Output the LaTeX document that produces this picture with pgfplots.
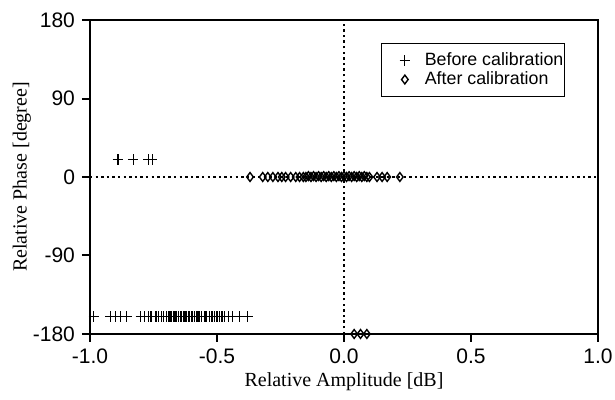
\documentclass[border=0pt]{standalone}
\usepackage{pgfplots}
\pgfplotsset{compat=1.18}
\usepackage{fontspec}
\setmainfont{Liberation Serif}
\newfontfamily\hel{Liberation Sans}
\begin{document}
\begin{tikzpicture}
\begin{axis}[
  name=ax,
  scale only axis, width=254pt, height=157pt,
  xmin=-1, xmax=1, ymin=-180, ymax=180,
  xtick={-1,-0.5,0,0.5,1}, ytick={-180,-90,0,90,180},
  xticklabel style={/pgf/number format/.cd, fixed, fixed zerofill, precision=1},
  /pgf/number format/assume math mode=true,
  ticklabel style={font=\hel\fontsize{10.5}{12}\selectfont},
  tick align=outside, xtick pos=bottom, ytick pos=left,
  major tick length=4pt,
  axis line style={line width=1pt}, tick style={line width=1pt, black},
  xlabel={Relative Amplitude [dB]}, ylabel={Relative Phase [degree]},
  label style={font=\fontsize{9.2}{10}\selectfont},
  every axis x label/.style={at={(axis description cs:0.5,-0.153)}, anchor=center},
  every axis y label/.style={at={(axis description cs:-0.134,0.5)}, rotate=90, anchor=center},
  clip=false,
  legend style={at={(0.935,0.9265)}, anchor=north east, draw=black, line width=0.6pt,
    font=\hel\fontsize{8.9}{9.5}\selectfont, inner xsep=0.5pt, inner ysep=3.5pt, row sep=-0.5pt,
    nodes={inner xsep=0pt, inner ysep=1pt}},
  legend cell align=left,
  legend image code/.code={\path[draw=none, fill=none] (0pt,-1pt) rectangle (21pt,1pt); \draw[#1] plot coordinates {(11pt,0pt)};},
]
\draw[line width=1pt, dash pattern=on 1.2pt off 1.6pt] (axis cs:-1,0) -- (axis cs:1,0);
\draw[line width=1pt, dash pattern=on 1.2pt off 1.6pt] (axis cs:0,-180) -- (axis cs:0,180);
\addplot[only marks, mark=+, mark size=2.6pt, line width=0.6pt] coordinates {
(-0.89,20) (-0.83,20) (-0.77,20) (-0.755,20)
(-0.985,-160) (-0.92,-160) (-0.90,-160) (-0.88,-160) (-0.855,-160)
(-0.80,-160) (-0.785,-160) (-0.77,-160) (-0.76,-160) (-0.74,-160) (-0.73,-160)
(-0.72,-160) (-0.71,-160) (-0.70,-160) (-0.69,-160) (-0.685,-160) (-0.68,-160)
(-0.67,-160) (-0.665,-160) (-0.66,-160) (-0.65,-160) (-0.645,-160) (-0.64,-160)
(-0.63,-160) (-0.625,-160) (-0.62,-160) (-0.61,-160) (-0.60,-160) (-0.595,-160)
(-0.59,-160) (-0.58,-160) (-0.575,-160) (-0.57,-160) (-0.56,-160) (-0.55,-160)
(-0.545,-160) (-0.54,-160) (-0.53,-160) (-0.52,-160) (-0.51,-160) (-0.50,-160)
(-0.49,-160) (-0.48,-160) (-0.47,-160) (-0.455,-160) (-0.44,-160) (-0.41,-160) (-0.38,-160)
};
\addlegendentry{Before calibration}
\addplot[only marks, mark=diamond, mark size=2.2pt, line width=0.7pt] coordinates {
(-0.37,0) (-0.32,0) (-0.30,0) (-0.28,0) (-0.26,0) (-0.245,0) (-0.23,0) (-0.21,0)
(-0.19,0) (-0.175,0) (-0.16,0) (-0.15,0) (-0.14,1) (-0.13,0) (-0.12,1) (-0.11,0)
(-0.10,1) (-0.09,0) (-0.08,1) (-0.07,0) (-0.06,1) (-0.05,0) (-0.04,1) (-0.03,0)
(-0.02,1) (-0.01,0) (0.00,1) (0.01,0) (0.02,1) (0.03,0) (0.04,1) (0.05,0)
(0.06,1) (0.07,0) (0.08,1) (0.09,0) (0.10,0) (0.13,0) (0.15,0) (0.17,0) (0.22,0)
(0.04,-180) (0.065,-180) (0.09,-180)
};
\addlegendentry{After calibration}
\end{axis}
\pgfresetboundingbox
\path[use as bounding box] ([shift={(-45pt,-33pt)}]ax.south west) rectangle ([shift={(8.5pt,10pt)}]ax.north east);
\end{tikzpicture}
\end{document}
